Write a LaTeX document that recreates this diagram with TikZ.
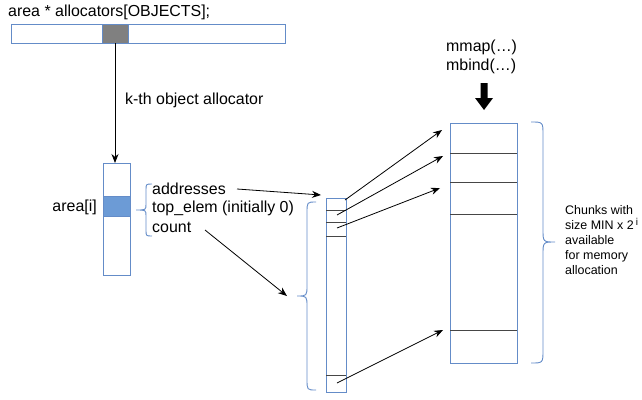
\documentclass[tikz,border=0pt]{standalone}
\usepackage{fontspec}
\setmainfont{Liberation Sans}
\usetikzlibrary{arrows.meta}
\definecolor{bord}{RGB}{100,140,200}
\definecolor{cellfill}{RGB}{108,155,214}
\definecolor{cellgray}{RGB}{128,128,128}
\definecolor{sep}{RGB}{70,70,70}
\begin{document}
\begin{tikzpicture}[x=1bp,y=-1bp,
  box/.style={draw=bord, line width=0.9bp, inner sep=0, outer sep=0},
  lbl/.style={font=\fontsize{16}{19}\selectfont, inner sep=0, anchor=west},
  small/.style={font=\fontsize{12.5}{15}\selectfont, inner sep=0, anchor=west, align=left},
  arr/.style={-{Stealth[length=9bp,width=7bp]}, line width=0.8bp, black},
  sepline/.style={draw=sep, line width=1bp},
  bracestyle/.style={draw=bord, line width=0.9bp}]
\useasboundingbox (0,0) rectangle (642,399);

% top array
\node[box, minimum width=274bp, minimum height=19bp] (alloc) at (148,33.5) {};
\node[box, fill=cellgray, minimum width=26bp, minimum height=19bp] (cell) at (115,33.5) {};
\node[lbl] (title) at (8,12) {area * allocators[OBJECTS];};

% area column
\node[box, minimum width=27bp, minimum height=112bp] (area) at (116.5,219) {};
\node[box, fill=cellfill, minimum width=27bp, minimum height=20bp] (areai) at (116.5,206) {};
\node[lbl, anchor=east] (arealbl) at (97,207) {area[i]};
\draw[arr] (cell.south) -- (cell.south |- area.north);
\node[lbl] (kth) at (125,100) {k-th object allocator};

% fields
\node[lbl] (addr) at (152,189) {addresses};
\node[lbl] (top) at (152,208) {top\_elem (initially 0)};
\node[lbl] (cnt) at (152,227) {count};
\draw[bracestyle] (152,184) .. controls (146,184) .. (146,190) -- (146,204)
  .. controls (146,210) .. (136,210) .. controls (146,210) .. (146,216) -- (146,230)
  .. controls (146,236) .. (152,236);

% middle column
\node[box, minimum width=20bp, minimum height=194bp] (mid) at (336,295) {};
\foreach \yy in {210,222,236,375} \draw[sepline] (mid.west |- 0,\yy) -- (mid.east |- 0,\yy);
\draw[bracestyle] (316,202) .. controls (307,202) .. (307,213) -- (307,285)
  .. controls (307,296) .. (297,296) .. controls (307,296) .. (307,307) -- (307,379)
  .. controls (307,390) .. (316,390);
\coordinate (addrend) at (237,189);
\coordinate (cntend) at (205,230);
\coordinate (midtop) at (321,195);
\coordinate (bracetip) at (287,296);
\draw[arr] (addrend) -- (midtop);
\draw[arr] (cntend) -- (bracetip);

% right column
\node[box, minimum width=67bp, minimum height=240bp] (chunks) at (483.5,243) {};
\foreach \yy in {153,182,214,330} \draw[sepline] (chunks.west |- 0,\yy) -- (chunks.east |- 0,\yy);
\draw[bracestyle] (531,122) .. controls (543,122) .. (543,135) -- (543,229)
  .. controls (543,242) .. (555,242) .. controls (543,242) .. (543,255) -- (543,350)
  .. controls (543,363) .. (531,363);
\node[small, anchor=north west] (chunklbl) at (565,205) {Chunks with\\size MIN x 2\,\raisebox{4bp}{\fontsize{10}{10}\selectfont i}\\available\\for memory\\allocation};

% pointer arrows
\coordinate (s1) at (345,200);
\coordinate (s2) at (337,215);
\coordinate (s3) at (337,228);
\coordinate (s4) at (337,383);
\coordinate (t1) at (442,130);
\coordinate (t2) at (443,156);
\coordinate (t3) at (440,188);
\coordinate (t4) at (443,330);
\draw[arr] (s1) -- (t1);
\draw[arr] (s2) -- (t2);
\draw[arr] (s3) -- (t3);
\draw[arr] (s4) -- (t4);

% mmap / mbind
\node[lbl] (mmap) at (446,47) {mmap(…)};
\node[lbl] (mbind) at (446,66) {mbind(…)};
\fill[black] (480.5,83) -- (487.5,83) -- (487.5,98) -- (493,98) -- (484,110) -- (475,98) -- (480.5,98) -- cycle;
\end{tikzpicture}
\end{document}
